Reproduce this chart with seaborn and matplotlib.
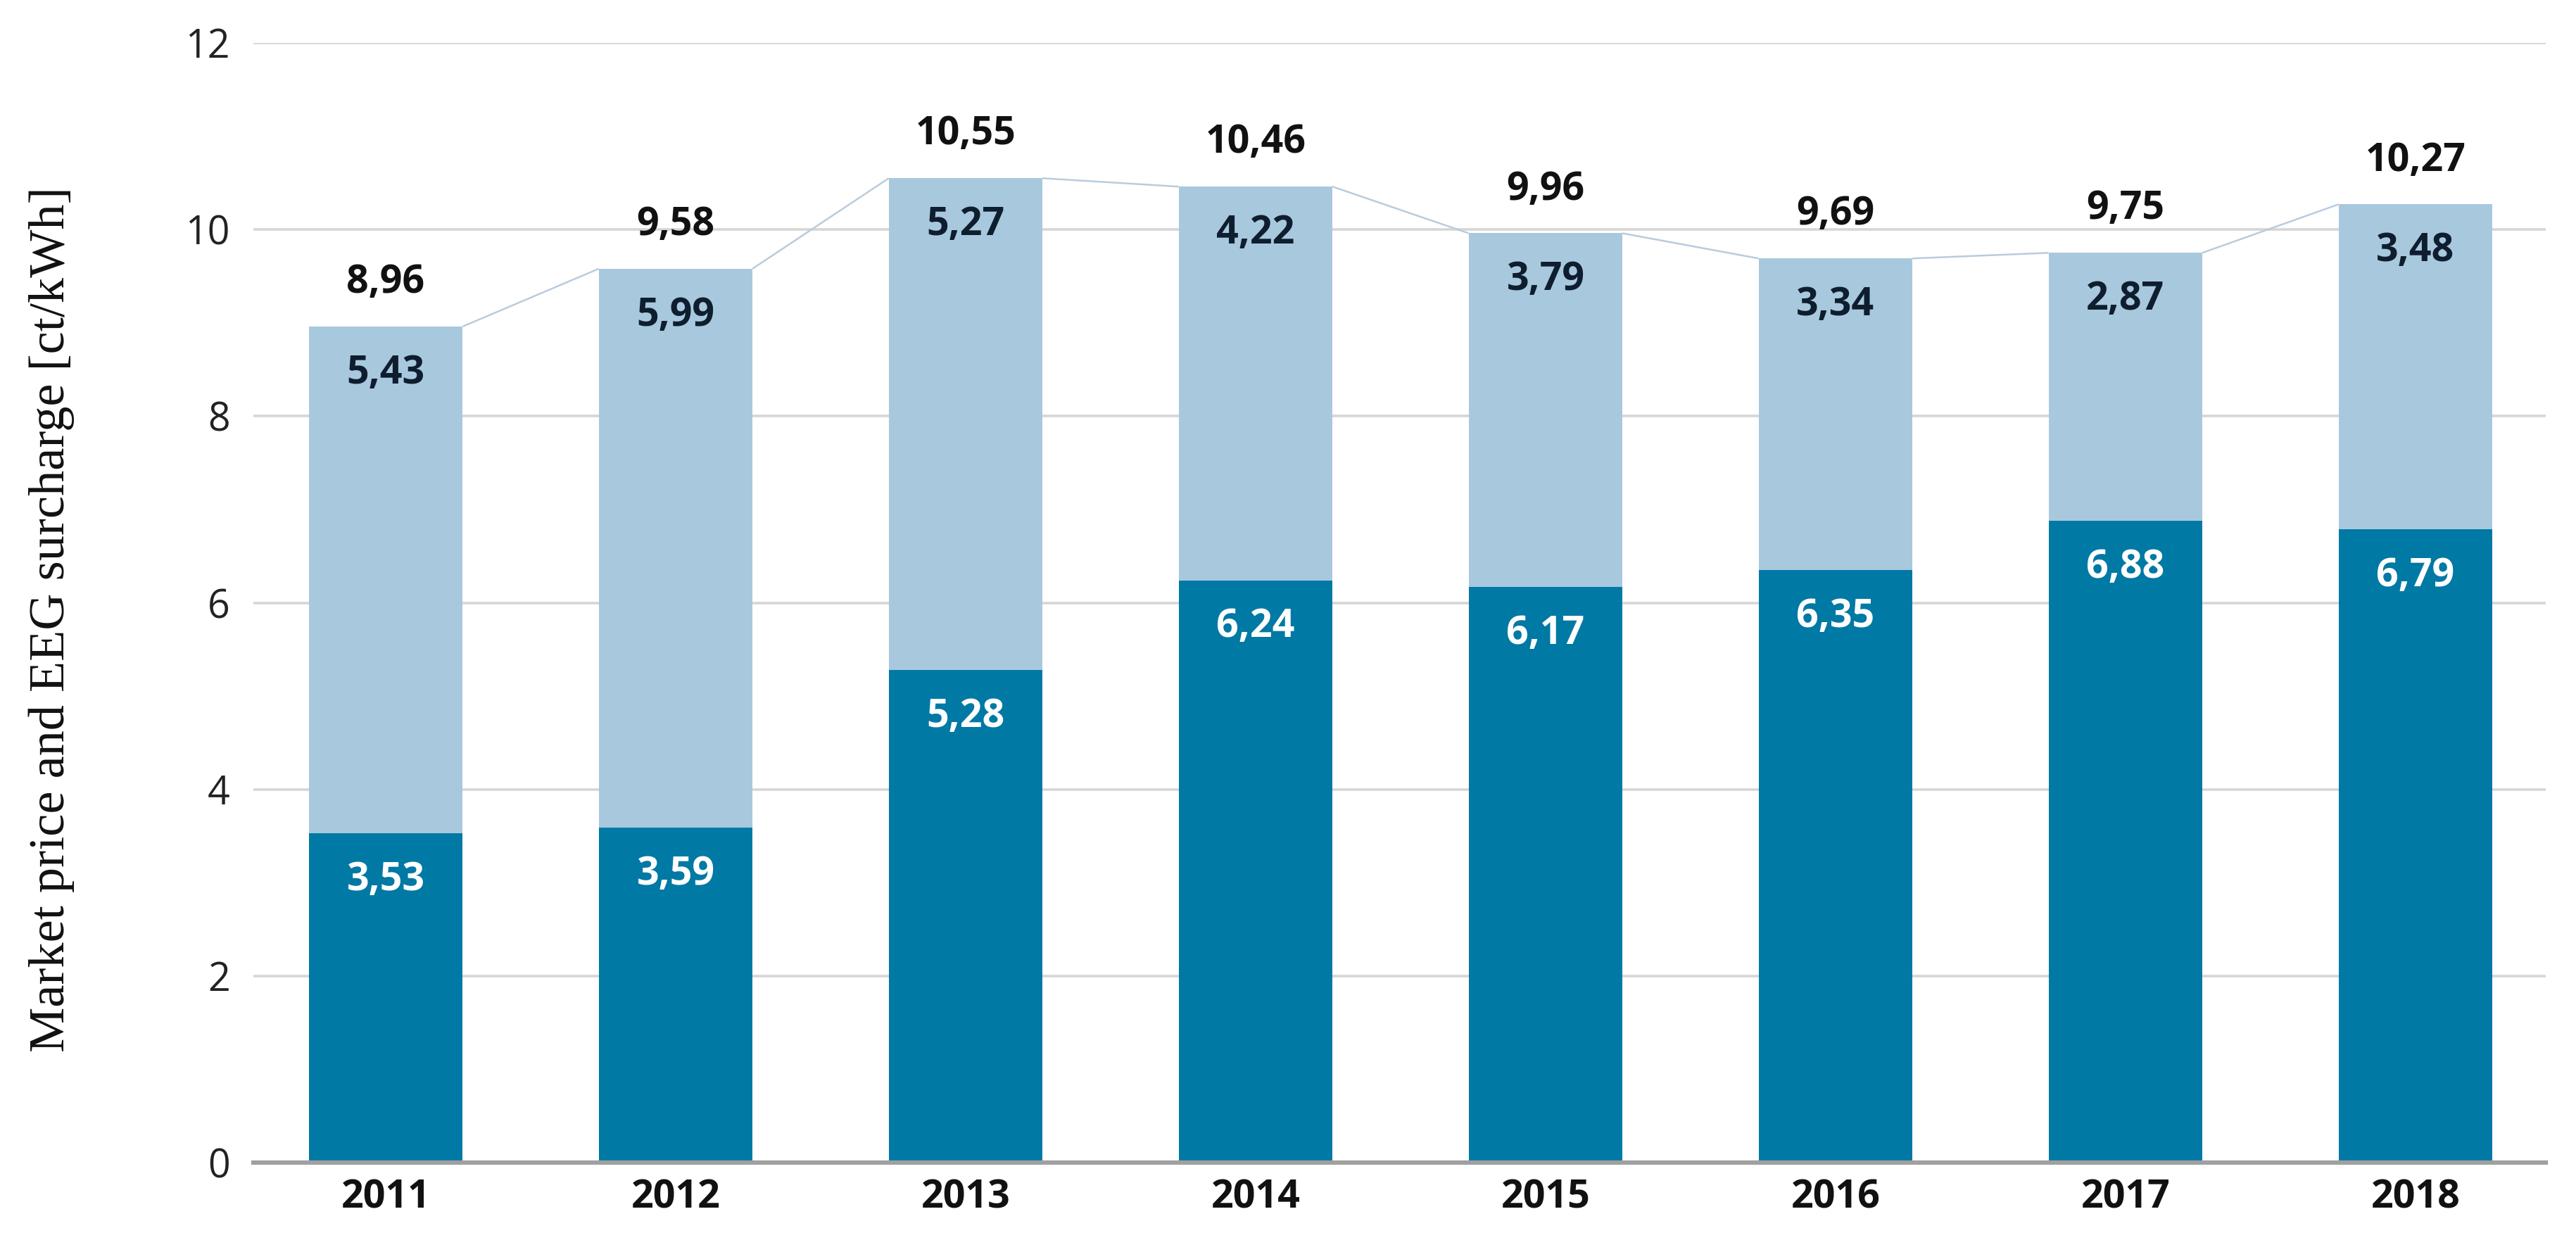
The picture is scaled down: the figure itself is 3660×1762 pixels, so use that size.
import matplotlib
matplotlib.use("Agg")
import matplotlib.pyplot as plt
import seaborn as sns
import pandas as pd

# ---- data ----
years = ["2011", "2012", "2013", "2014", "2015", "2016", "2017", "2018"]
eeg_surcharge = [3.53, 3.59, 5.28, 6.24, 6.17, 6.35, 6.88, 6.79]
market_price = [5.43, 5.99, 5.27, 4.22, 3.79, 3.34, 2.87, 3.48]
totals = [8.96, 9.58, 10.55, 10.46, 9.96, 9.69, 9.75, 10.27]
y_ticks = [0, 2, 4, 6, 8, 10, 12]

df = pd.DataFrame({"year": years, "eeg": eeg_surcharge,
                   "market": market_price, "total": totals})

sns.set_style("white")
plt.rcParams["font.family"] = ["Open Sans", "DejaVu Sans"]

DARK = "#0079A4"
LIGHT = "#A8C8DE"
GRID = "#D6D6D6"
CONNECT = "#B9CCDD"
BAR_W = 0.53

fig = plt.figure(figsize=(36.6, 17.62), dpi=100)
ax = fig.add_axes([0.0984, 0.0624, 0.8899, 0.903])

# stacked bars: total (light) then EEG surcharge (dark) on top
sns.barplot(data=df, x="year", y="total", color=LIGHT, width=BAR_W,
            saturation=1, ax=ax, zorder=2, linewidth=0)
sns.barplot(data=df, x="year", y="eeg", color=DARK, width=BAR_W,
            saturation=1, ax=ax, zorder=3, linewidth=0)

# connecting lines between bar tops
for i in range(len(years) - 1):
    ax.plot([i + BAR_W / 2, i + 1 - BAR_W / 2], [totals[i], totals[i + 1]],
            color=CONNECT, lw=1.8, zorder=1.5, solid_capstyle="butt")

lab_font = ["Open Sans", "DejaVu Sans"]
for i in range(len(years)):
    ax.text(i, totals[i] + 0.47, f"{totals[i]:.2f}".replace(".", ","),
            ha="center", va="center", fontsize=40, fontweight="bold",
            color="#111111", family=lab_font, zorder=5)
    ax.text(i, totals[i] - 0.5, f"{market_price[i]:.2f}".replace(".", ","),
            ha="center", va="center", fontsize=40, fontweight="bold",
            color="#0E1E2E", family=lab_font, zorder=5)
    ax.text(i, eeg_surcharge[i] - 0.5, f"{eeg_surcharge[i]:.2f}".replace(".", ","),
            ha="center", va="center", fontsize=40, fontweight="bold",
            color="white", family=lab_font, zorder=5)

ax.set_xlim(-0.456, 7.45)
ax.set_ylim(0, 12)
ax.set_yticks(y_ticks)
ax.set_yticklabels([str(t) for t in y_ticks])
ax.yaxis.grid(True, color=GRID, lw=2.6, zorder=0)
ax.xaxis.grid(False)
ax.set_axisbelow(True)

for s in ["top", "right", "left"]:
    ax.spines[s].set_visible(False)
ax.spines["bottom"].set_color("#A0A0A0")
ax.spines["bottom"].set_linewidth(4.5)
ax.spines["bottom"].set_zorder(4)

ax.tick_params(axis="y", length=0, pad=24, labelsize=40, colors="#222222")
ax.tick_params(axis="x", length=0, pad=16, labelsize=40, colors="#111111")
for t in ax.get_xticklabels():
    t.set_fontweight("bold")

ax.set_xlabel("")
ax.set_ylabel("Market price and EEG surcharge [ct/kWh]",
              family=["Liberation Serif", "DejaVu Serif"], fontsize=52,
              color="#111111")
ax.yaxis.label.set_va("center")
ax.yaxis.set_label_coords(-0.088, 0.485)

fig.savefig("out.png", dpi=100)
